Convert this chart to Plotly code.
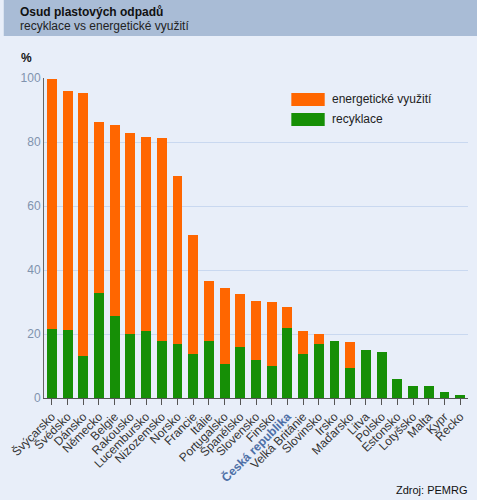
import plotly.graph_objects as go

countries = ["Švýcarsko", "Švédsko", "Dánsko", "Německo", "Belgie", "Rakousko",
             "Lucembursko", "Nizozemsko", "Norsko", "Francie", "Itálie", "Portugalsko",
             "Španělsko", "Slovensko", "Finsko", "Česká republika", "Velká Británie",
             "Slovinsko", "Irsko", "Maďarsko", "Litva", "Polsko", "Estonsko",
             "Lotyšsko", "Malta", "Kypr", "Řecko"]
total = [99.7, 95.8, 95.2, 86.3, 85.3, 82.9, 81.7, 81.3, 69.4, 50.8, 36.7, 34.4,
         32.5, 30.3, 30.1, 28.5, 21.0, 19.9, 17.8, 17.6, 15.0, 14.4, 5.9,
         3.9, 3.9, 2.0, 0.9]
recyklace = [21.7, 21.3, 13.0, 32.8, 25.5, 20.0, 20.8, 17.7, 17.0, 13.8, 17.7, 10.5,
             15.8, 11.8, 9.9, 22.0, 13.8, 17.0, 17.8, 9.5, 15.0, 14.4, 5.9,
             3.9, 3.9, 2.0, 0.9]
energeticke = [round(t - r, 1) for t, r in zip(total, recyklace)]
y_ticks = [0, 20, 40, 60, 80, 100]

ORANGE = "#ff6600"
GREEN = "#168f06"
BG = "#e8eef9"
FONT = "Liberation Sans, Arial, sans-serif"

ticktext = []
for c in countries:
    if c == "Česká republika":
        ticktext.append('<b><span style="color:#4d6fa6">' + c + '</span></b>')
    else:
        ticktext.append(c)

fig = go.Figure()
fig.add_bar(x=countries, y=recyklace, name="recyklace", marker_color=GREEN,
            marker_line_width=0)
fig.add_bar(x=countries, y=energeticke, name="energetické využití",
            marker_color=ORANGE, marker_line_width=0)

# pixel -> paper helpers (plot area: left 36, width 432, top 78, height 320)
L, W, T, H = 36, 432, 78, 320
def px(x):
    return (x - L) / W
def py(y):
    return (T + H - y) / H

shapes = [
    dict(type="rect", xref="paper", yref="paper", x0=px(-5), x1=px(485),
         y0=py(36), y1=py(-5), fillcolor="#a9bcd6", line_width=0, layer="below"),
    dict(type="rect", xref="paper", yref="paper", x0=px(288), x1=px(322),
         y0=py(106), y1=py(93), fillcolor=ORANGE, line_width=0),
    dict(type="rect", xref="paper", yref="paper", x0=px(288), x1=px(322),
         y0=py(126), y1=py(113), fillcolor=GREEN, line_width=0),
]

annotations = [
    dict(text="<b>Osud plastových odpadů</b>", x=px(10), y=py(12), xref="paper", yref="paper",
         xanchor="left", yanchor="middle", showarrow=False,
         font=dict(family=FONT, size=12, color="#111")),
    dict(text="recyklace vs energetické využití", x=px(10), y=py(26), xref="paper", yref="paper",
         xanchor="left", yanchor="middle", showarrow=False,
         font=dict(family=FONT, size=12, color="#222")),
    dict(text="<b>%</b>", x=px(11), y=py(58), xref="paper", yref="paper",
         xanchor="left", yanchor="middle", showarrow=False,
         font=dict(family=FONT, size=12, color="#111")),
    dict(text="energetické využití", x=px(327), y=py(99.5), xref="paper", yref="paper",
         xanchor="left", yanchor="middle", showarrow=False,
         font=dict(family=FONT, size=12, color="#222")),
    dict(text="recyklace", x=px(327), y=py(119.5), xref="paper", yref="paper",
         xanchor="left", yanchor="middle", showarrow=False,
         font=dict(family=FONT, size=12, color="#222")),
    dict(text="Zdroj: PEMRG", x=px(470), y=py(490), xref="paper", yref="paper",
         xanchor="right", yanchor="middle", showarrow=False,
         font=dict(family=FONT, size=11, color="#111")),
]

fig.update_layout(
    width=477, height=500,
    margin=dict(l=L, r=477 - L - W, t=T, b=500 - T - H, pad=0),
    barmode="stack", bargap=0.37,
    showlegend=False,
    paper_bgcolor=BG, plot_bgcolor=BG,
    font=dict(family=FONT),
    shapes=shapes, annotations=annotations,
    xaxis=dict(tickmode="array", tickvals=countries, ticktext=ticktext, tickangle=-45,
               tickfont=dict(family=FONT, size=12, color="#333"),
               ticks="outside", ticklen=6, tickcolor="#555", tickwidth=1,
               showline=True, linecolor="#555", linewidth=1, showgrid=False,
               fixedrange=True),
    yaxis=dict(range=[0, 100], tickvals=y_ticks, showgrid=True, gridcolor="#c9d8f0",
               gridwidth=1, showline=True, linecolor="#666", linewidth=1,
               tickfont=dict(family=FONT, size=12, color="#8093ae"),
               ticks="", zeroline=False, fixedrange=True),
)

fig.write_html("out.html", config={"displayModeBar": False},
               post_script="document.body.style.margin='0';document.body.style.overflow='hidden';")
